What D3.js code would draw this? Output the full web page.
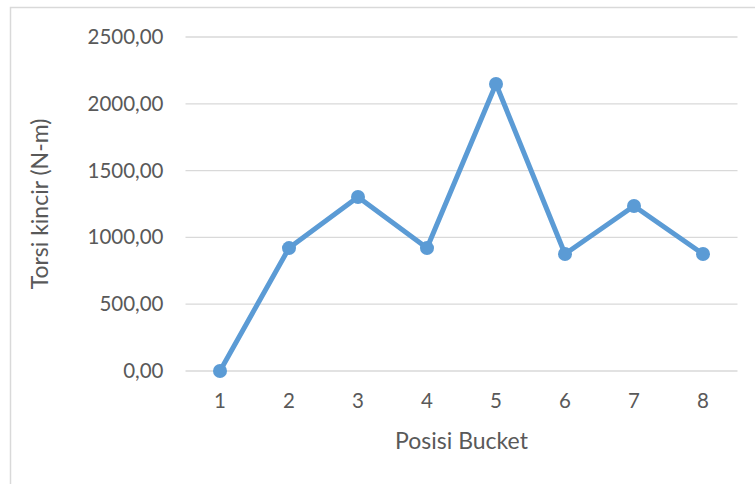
<!DOCTYPE html>
<html>
<head>
<meta charset="utf-8">
<script src="https://cdn.jsdelivr.net/npm/d3@7"></script>
<style>
  body { margin: 0; background: #fff; }
  text { font-family: Lato, "Open Sans", sans-serif; fill: #595959; }
</style>
</head>
<body>
<svg id="chart" width="755" height="484"></svg>
<script>
// data
const positions = ["1", "2", "3", "4", "5", "6", "7", "8"];
const torque = [0, 920, 1302, 920, 2148, 876, 1235, 876];
const yTicks = [0, 500, 1000, 1500, 2000, 2500];

const svg = d3.select("#chart");

// chart area frame (only top and left edges visible in the crop)
svg.append("rect")
    .attr("x", 10.5).attr("y", 7.5)
    .attr("width", 800).attr("height", 500)
    .attr("fill", "none")
    .attr("stroke", "#d9d9d9")
    .attr("stroke-width", 1.5);

const plot = { left: 185.5, right: 737.5, top: 37, bottom: 371 };

const x = d3.scaleBand()
    .domain(positions)
    .range([plot.left, plot.right])
    .padding(0);

const y = d3.scaleLinear()
    .domain([0, 2500])
    .range([plot.bottom, plot.top]);

const fmt = v => d3.format(".2f")(v).replace(".", ",");

// gridlines
svg.append("g")
    .selectAll("line")
    .data(yTicks)
    .join("line")
    .attr("x1", plot.left).attr("x2", plot.right)
    .attr("y1", d => y(d)).attr("y2", d => y(d))
    .attr("stroke", "#d9d9d9")
    .attr("stroke-width", 1.3);

// y axis labels
const yAxis = svg.append("g")
    .attr("transform", `translate(${plot.left},0)`)
    .call(d3.axisLeft(y).tickValues(yTicks).tickFormat(fmt).tickSize(0).tickPadding(22));
yAxis.select(".domain").remove();
yAxis.selectAll("text").style("font-size", "20.5px").attr("fill", "#595959");

// x axis labels
const xAxis = svg.append("g")
    .attr("transform", `translate(0,${plot.bottom})`)
    .call(d3.axisBottom(x).tickSize(0).tickPadding(22));
xAxis.select(".domain").remove();
xAxis.selectAll("text").style("font-size", "20.5px").attr("fill", "#595959");

// axis titles
svg.append("text")
    .attr("x", (plot.left + plot.right) / 2)
    .attr("y", 449)
    .attr("text-anchor", "middle")
    .style("font-size", "23px")
    .text("Posisi Bucket");

svg.append("text")
    .attr("transform", `translate(48,${(plot.top + plot.bottom) / 2}) rotate(-90)`)
    .attr("text-anchor", "middle")
    .style("font-size", "23px")
    .text("Torsi kincir (N-m)");

// series
const cx = d => x(d) + x.bandwidth() / 2;

svg.append("path")
    .datum(torque)
    .attr("fill", "none")
    .attr("stroke", "#5b9bd5")
    .attr("stroke-width", 5)
    .attr("stroke-linejoin", "round")
    .attr("d", d3.line().x((d, i) => cx(positions[i])).y(d => y(d)));

svg.append("g")
    .selectAll("circle")
    .data(torque)
    .join("circle")
    .attr("cx", (d, i) => cx(positions[i]))
    .attr("cy", d => y(d))
    .attr("r", 7)
    .attr("fill", "#5b9bd5");
</script>
</body>
</html>
